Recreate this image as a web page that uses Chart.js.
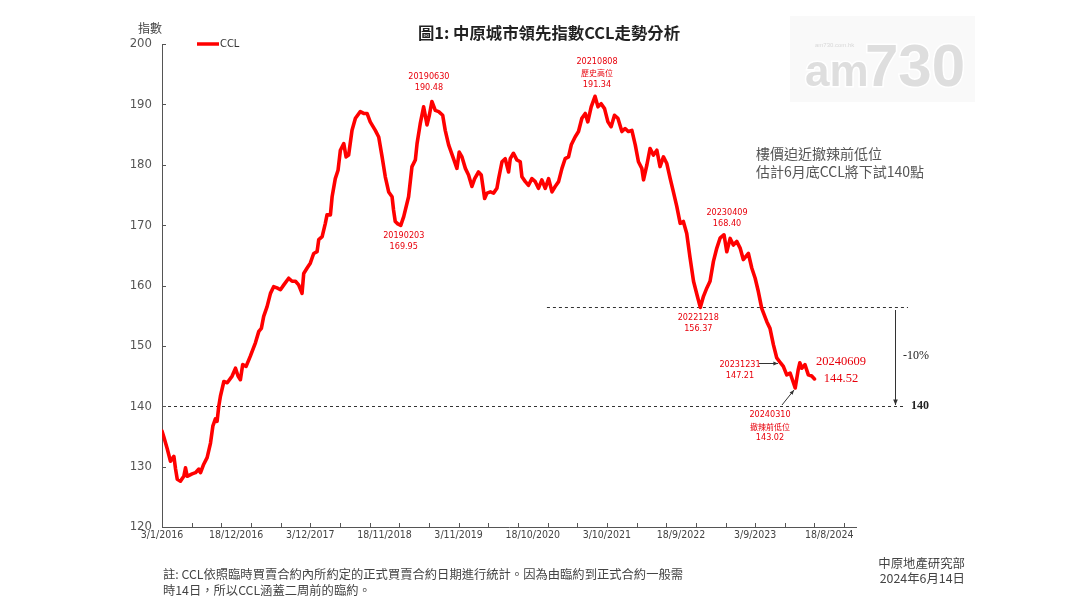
<!DOCTYPE html>
<html><head><meta charset="utf-8">
<script src="https://cdn.jsdelivr.net/npm/chart.js@4.4.1/dist/chart.umd.min.js"></script>
<style>html,body{margin:0;padding:0;background:#fff;}canvas{display:block}</style>
</head><body>
<canvas id="c" width="1080" height="608"></canvas>
<script>
const dates = [
'2016-01-03','2016-01-11','2016-01-28','2016-02-12','2016-02-28','2016-03-07','2016-03-15','2016-03-30','2016-04-15','2016-04-23',
'2016-05-01','2016-05-24','2016-06-09','2016-06-25','2016-07-03','2016-07-18','2016-08-03','2016-08-19','2016-08-30','2016-09-11',
'2016-09-19','2016-09-27','2016-10-05','2016-10-21','2016-11-06','2016-11-29','2016-12-15','2016-12-27','2017-01-07','2017-01-18',
'2017-02-03','2017-02-23','2017-03-19','2017-04-04','2017-04-16','2017-04-27','2017-05-13','2017-05-29','2017-06-13','2017-06-29',
'2017-07-15','2017-07-31','2017-08-23','2017-09-08','2017-09-24','2017-10-09','2017-10-25','2017-11-02','2017-11-18','2017-12-03',
'2017-12-19','2018-01-04','2018-01-12','2018-01-28','2018-02-12','2018-02-20','2018-03-08','2018-03-16','2018-03-31','2018-04-13',
'2018-04-24','2018-05-10','2018-05-21','2018-06-02','2018-06-18','2018-07-04','2018-07-27','2018-08-12','2018-08-28','2018-09-12',
'2018-10-06','2018-10-22','2018-11-07','2018-11-22','2018-12-08','2018-12-24','2018-12-31','2019-01-08','2019-01-20','2019-02-03',
'2019-02-17','2019-03-12','2019-03-28','2019-04-13','2019-04-21','2019-05-06','2019-05-22','2019-06-07','2019-06-18','2019-06-30',
'2019-07-16','2019-08-01','2019-08-20','2019-09-01','2019-09-17','2019-10-10','2019-10-26','2019-11-06','2019-11-19','2019-12-05',
'2019-12-20','2020-01-05','2020-01-18','2020-02-05','2020-02-18','2020-03-05','2020-03-16','2020-04-01','2020-04-16','2020-05-02',
'2020-05-10','2020-05-26','2020-06-10','2020-06-26','2020-07-04','2020-07-19','2020-08-04','2020-08-20','2020-08-28','2020-09-13',
'2020-09-28','2020-10-14','2020-10-30','2020-11-14','2020-11-30','2020-12-16','2021-01-01','2021-01-17','2021-02-01','2021-02-17',
'2021-03-05','2021-03-20','2021-04-05','2021-04-18','2021-05-06','2021-05-22','2021-06-07','2021-06-23','2021-07-05','2021-07-21',
'2021-08-08','2021-08-22','2021-09-06','2021-09-22','2021-10-08','2021-10-23','2021-11-08','2021-11-24','2021-12-13','2021-12-28',
'2022-01-13','2022-01-29','2022-02-14','2022-03-01','2022-03-17','2022-03-25','2022-04-10','2022-04-25','2022-05-11','2022-05-27',
'2022-06-11','2022-06-27','2022-07-13','2022-07-29','2022-08-13','2022-08-29','2022-09-14','2022-09-29','2022-10-15','2022-10-31',
'2022-11-16','2022-12-02','2022-12-18','2023-01-02','2023-01-18','2023-02-02','2023-02-18','2023-03-06','2023-03-22','2023-04-09',
'2023-04-22','2023-05-08','2023-05-23','2023-06-08','2023-06-24','2023-07-09','2023-08-02','2023-08-18','2023-09-03','2023-09-18',
'2023-10-04','2023-10-28','2023-11-12','2023-11-28','2023-12-14','2023-12-31','2024-01-14','2024-01-30','2024-02-15','2024-03-10',
'2024-03-24','2024-04-01','2024-04-10','2024-04-25','2024-05-11','2024-05-27','2024-06-09'
];
const ccl = [
135.9,135.0,132.9,130.9,131.7,129.6,127.9,127.6,128.4,129.8,
128.4,128.8,129.0,129.6,129.0,130.4,131.5,133.9,136.7,137.9,
137.5,140.0,141.7,144.1,143.9,145.0,146.3,145.0,144.4,146.9,
146.6,148.3,150.5,152.4,152.9,154.9,156.5,158.7,159.8,159.6,
159.3,160.1,161.2,160.7,160.7,160.1,158.7,162.0,162.9,163.7,
165.3,165.6,167.6,168.1,170.3,171.7,171.7,174.7,177.7,179.1,
182.4,183.5,181.3,181.6,185.7,187.7,188.8,188.5,188.5,187.1,
185.7,184.6,181.3,178.0,175.5,174.7,172.5,170.6,170.2,169.95,
171.4,174.7,179.7,180.8,183.5,186.8,189.6,186.6,188.2,190.48,
189.0,188.8,188.2,185.7,183.3,181.0,179.4,182.1,181.3,179.4,
178.3,176.4,177.7,178.8,178.3,174.4,175.3,175.5,175.3,176.1,
177.7,180.5,181.0,178.8,181.0,181.9,180.8,180.5,178.0,177.2,
176.6,177.7,177.2,176.1,177.5,176.1,177.7,175.5,176.4,177.2,
179.4,181.0,181.3,183.3,184.6,185.5,187.7,188.5,187.1,189.6,
191.34,189.6,190.1,189.3,187.1,186.3,188.2,187.7,185.5,186.0,
185.5,185.7,183.3,180.5,179.4,177.5,180.0,182.7,181.6,182.4,
179.7,181.3,180.2,177.7,175.5,173.1,170.3,170.6,168.6,164.5,
160.7,158.5,156.37,158.2,159.6,160.7,164.0,166.2,167.9,168.40,
165.6,167.8,166.7,167.3,166.2,164.3,165.3,162.9,161.2,159.0,
156.2,154.0,152.9,150.2,148.0,147.21,146.6,145.2,145.5,143.02,
146.0,147.2,146.3,146.9,145.2,145.0,144.52
];
const yTickValues = [120,130,140,150,160,170,180,190,200];
const xLabelDays = [0,350,700,1050,1400,1750,2100,2450,2800,3150];
const xMinorTickDays = [0,140,280,420,560,700,840,980,1120,1260,1400,1540,1680,1820,1960,2100,2240,2380,2520,2660,2800,2940,3080,3220];
const xMaxDay = 3276;
const refLevels = [156.37, 140];
const peakLabels = [
  {date:'2019-06-30', value:190.48, lines:['20190630','190.48'], dx:-3, dy:[-25,-14]},
  {date:'2021-08-08', value:191.34, lines:['20210808','歷史高位','191.34'], dx:2, dy:[-35,-23.5,-12]},
  {date:'2019-02-03', value:169.95, lines:['20190203','169.95'], dx:3, dy:[10,21]},
  {date:'2023-04-09', value:168.40, lines:['20230409','168.40'], dx:3, dy:[-22,-11]},
  {date:'2022-12-18', value:156.37, lines:['20221218','156.37'], dx:-2, dy:[10,21]}
];

const BASE = Date.UTC(2016,0,3);
function dayOf(s){const p=s.split('-').map(Number);return (Date.UTC(p[0],p[1]-1,p[2])-BASE)/864e5;}
function fmtDay(v){const d=new Date(BASE+v*864e5);return d.getUTCDate()+'/'+(d.getUTCMonth()+1)+'/'+d.getUTCFullYear();}

const NARROW = '"Liberation Sans Narrow","DejaVu Sans Condensed","Liberation Sans",sans-serif';
const CJK = '"Noto Sans CJK TC","Noto Sans CJK SC",sans-serif';
const SERIF = '"Liberation Serif","DejaVu Serif",serif';

const points = dates.map((d,i)=>({x:dayOf(d), y:ccl[i]}));

function arrow(ctx,x1,y1,x2,y2,head){
  ctx.beginPath();ctx.moveTo(x1,y1);ctx.lineTo(x2,y2);ctx.stroke();
  const a=Math.atan2(y2-y1,x2-x1);head=head||6;
  ctx.beginPath();ctx.moveTo(x2,y2);
  ctx.lineTo(x2-head*Math.cos(a-0.4),y2-head*Math.sin(a-0.4));
  ctx.lineTo(x2-head*Math.cos(a+0.4),y2-head*Math.sin(a+0.4));
  ctx.closePath();ctx.fill();
}

const decor = {
  id:'decor',
  beforeDraw(chart){
    const ctx=chart.ctx;ctx.save();
    ctx.fillStyle='#f9f9f9';ctx.fillRect(790,16,185,86);
    ctx.textBaseline='alphabetic';ctx.textAlign='left';
    ctx.lineWidth=3;ctx.strokeStyle='#ffffff';ctx.fillStyle='#dedede';
    ctx.font='bold 44px "Liberation Sans",sans-serif';
    ctx.strokeText('am',805,86);ctx.fillText('am',805,86);
    ctx.font='bold 60px "Liberation Sans Narrow","Liberation Sans",sans-serif';
    ctx.strokeText('730',865,86);ctx.fillText('730',865,86);
    ctx.font='6px "Liberation Sans",sans-serif';ctx.fillStyle='#d8d8d8';
    ctx.fillText('am730.com.hk',815,47);
    ctx.restore();
  },
  beforeDatasetsDraw(chart){
    const ctx=chart.ctx, x=chart.scales.x, y=chart.scales.y;ctx.save();
    ctx.strokeStyle='#333';ctx.lineWidth=1;ctx.setLineDash([3,3]);
    const y1=Math.round(y.getPixelForValue(refLevels[0]))+0.5;
    ctx.beginPath();ctx.moveTo(x.getPixelForValue(dayOf('2020-12-24')),y1);ctx.lineTo(908,y1);ctx.stroke();
    const y2=Math.round(y.getPixelForValue(refLevels[1]))+0.5;
    ctx.beginPath();ctx.moveTo(x.left,y2);ctx.lineTo(904,y2);ctx.stroke();
    ctx.restore();
  },
  afterDraw(chart){
    const ctx=chart.ctx, x=chart.scales.x, y=chart.scales.y;ctx.save();
    ctx.strokeStyle='#555';ctx.lineWidth=1;
    yTickValues.forEach(v=>{const py=Math.round(y.getPixelForValue(v))+0.5;ctx.beginPath();ctx.moveTo(x.left,py);ctx.lineTo(x.left+4,py);ctx.stroke();});
    xMinorTickDays.forEach(v=>{const px=Math.round(x.getPixelForValue(v))+0.5;ctx.beginPath();ctx.moveTo(px,y.bottom);ctx.lineTo(px,y.bottom-4);ctx.stroke();});
    ctx.fillStyle='#222';ctx.textAlign='center';ctx.textBaseline='middle';
    ctx.font='bold 16.4px '+CJK;ctx.fillText('圖1: 中原城市領先指數CCL走勢分析',549,33);
    ctx.fillStyle='#444';ctx.font='12px '+CJK;ctx.fillText('指數',150,28);
    ctx.strokeStyle='#ff0000';ctx.lineWidth=3.5;ctx.beginPath();ctx.moveTo(197,44);ctx.lineTo(219,44);ctx.stroke();
    ctx.fillStyle='#333';ctx.textAlign='left';ctx.font='11px '+NARROW;ctx.fillText('CCL',220,44.5);
    ctx.fillStyle='#e8000b';ctx.textAlign='center';
    peakLabels.forEach(l=>{
      const px=x.getPixelForValue(dayOf(l.date))+l.dx, py=y.getPixelForValue(l.value);
      l.lines.forEach((t,i)=>{ctx.font=(/[^\x00-\x7f]/.test(t)?'8px '+CJK:'9px '+NARROW);ctx.fillText(t,px,py+l.dy[i]);});
    });
    ctx.font='9px '+NARROW;
    ctx.fillText('20231231',740,365);ctx.fillText('147.21',740,376);
    ctx.fillText('20240310',770,415);ctx.font='8px '+CJK;ctx.fillText('撤辣前低位',770,426.5);ctx.font='9px '+NARROW;ctx.fillText('143.02',770,438);
    ctx.strokeStyle='#333';ctx.fillStyle='#333';ctx.lineWidth=1;
    arrow(ctx,759,363.5,778,363.5,5);
    arrow(ctx,782,405,794,390,5);
    ctx.fillStyle='#e8000b';ctx.font='12.5px '+SERIF;
    ctx.fillText('20240609',841,362);ctx.fillText('144.52',841,379);
    ctx.strokeStyle='#333';ctx.fillStyle='#333';
    arrow(ctx,895.5,310,895.5,405,6);
    ctx.fillStyle='#222';ctx.font='12px '+SERIF;ctx.fillText('-10%',916,356);
    ctx.font='bold 12px '+SERIF;ctx.fillText('140',920,406);
    ctx.fillStyle='#555';ctx.textAlign='left';ctx.font='14px '+CJK;
    ctx.fillText('樓價迫近撤辣前低位',756,154);ctx.fillText('估計6月底CCL將下試140點',756,172);
    ctx.fillStyle='#444';ctx.font='12.3px '+CJK;
    ctx.fillText('註: CCL依照臨時買賣合約內所約定的正式買賣合約日期進行統計。因為由臨約到正式合約一般需',163,574);
    ctx.fillText('時14日，所以CCL涵蓋二周前的臨約。',163,590);
    ctx.textAlign='right';ctx.font='12.4px '+CJK;
    ctx.fillText('中原地產研究部',965,563);ctx.fillText('2024年6月14日',965,578);
    ctx.restore();
  }
};

new Chart(document.getElementById('c'),{
  type:'line',
  data:{datasets:[{label:'CCL',data:points,borderColor:'#ff0000',borderWidth:3.6,pointRadius:0,tension:0,fill:false,borderJoinStyle:'round',borderCapStyle:'round'}]},
  options:{
    responsive:false,animation:false,
    layout:{padding:{top:44,right:224,left:0,bottom:0}},
    plugins:{legend:{display:false},tooltip:{enabled:false},title:{display:false}},
    scales:{
      x:{type:'linear',min:0,max:xMaxDay,
        afterBuildTicks:(s)=>{s.ticks=xLabelDays.map(v=>({value:v}));},
        afterFit:(s)=>{s.height=81;},
        grid:{display:false,drawTicks:false},
        border:{display:true,color:'#555',width:1},
        ticks:{autoSkip:false,maxRotation:0,padding:2,color:'#444',font:{family:NARROW,size:10.5},callback:(v)=>fmtDay(v)}},
      y:{min:120,max:200,
        afterBuildTicks:(s)=>{s.ticks=yTickValues.map(v=>({value:v}));},
        afterFit:(s)=>{s.width=162;},
        grid:{display:false,drawTicks:false},
        border:{display:true,color:'#555',width:1},
        ticks:{padding:10,color:'#555',font:{family:NARROW,size:13}}}
    }
  },
  plugins:[decor]
});
</script>
</body></html>
